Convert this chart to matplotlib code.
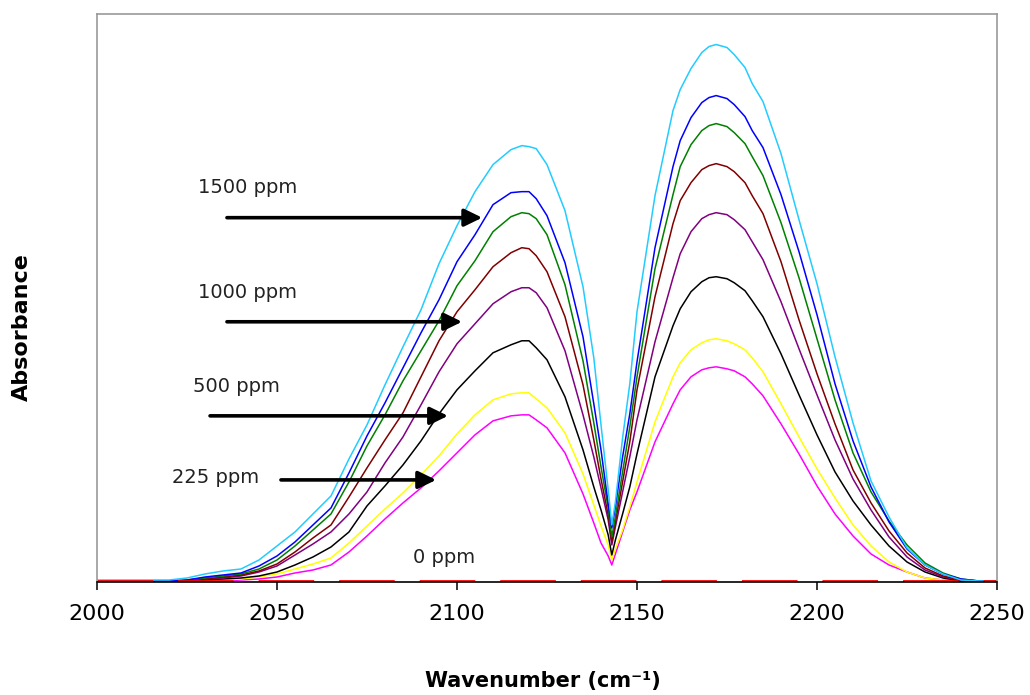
"""
CO gas-phase IR spectra at several concentrations (2000-2250 cm-1)
"""
import matplotlib
matplotlib.use('Agg')
import matplotlib.pyplot as plt

# Wavenumber grid (cm-1)
wavenumber = [2000, 2010, 2020, 2025, 2030, 2035, 2040, 2045, 2050,
              2055, 2060, 2065, 2070, 2075, 2080, 2085, 2090, 2095, 2100,
              2105, 2110, 2115, 2118, 2120, 2122, 2125, 2130, 2135,
              2138, 2140, 2142, 2143, 2144, 2146, 2148, 2150,
              2155, 2160, 2162, 2165, 2168, 2170, 2172, 2175, 2177, 2180, 2182, 2185,
              2190, 2195, 2200, 2205, 2210, 2215, 2220, 2225, 2230, 2235, 2240, 2245, 2250]

# Absorbance spectra, highest concentration first
abs_cyan = [0.002, 0.002, 0.002, 0.004, 0.008, 0.011, 0.013, 0.022, 0.036,
            0.050, 0.068, 0.086, 0.123, 0.157, 0.197, 0.235, 0.272, 0.318, 0.356,
            0.390, 0.417, 0.432, 0.436, 0.435, 0.433, 0.417, 0.371, 0.295,
            0.224, 0.157, 0.092, 0.057, 0.080, 0.144, 0.198, 0.270,
            0.386, 0.471, 0.492, 0.513, 0.529, 0.535, 0.537, 0.534, 0.527, 0.514, 0.498, 0.480,
            0.428, 0.362, 0.298, 0.225, 0.159, 0.101, 0.065, 0.034, 0.017, 0.008, 0.002, 0.001, 0.001]
abs_blue = [0.001, 0.001, 0.001, 0.002, 0.005, 0.007, 0.009, 0.016, 0.026,
            0.040, 0.057, 0.074, 0.109, 0.146, 0.179, 0.214, 0.249, 0.282, 0.320,
            0.347, 0.377, 0.389, 0.390, 0.390, 0.383, 0.366, 0.319, 0.245,
            0.178, 0.132, 0.078, 0.054, 0.075, 0.125, 0.168, 0.220,
            0.334, 0.415, 0.441, 0.464, 0.479, 0.484, 0.486, 0.483, 0.477, 0.465, 0.451, 0.434,
            0.387, 0.330, 0.267, 0.198, 0.141, 0.095, 0.060, 0.033, 0.017, 0.008, 0.003, 0.001, 0.001]
abs_green = [0.001, 0.001, 0.001, 0.002, 0.004, 0.006, 0.008, 0.013, 0.022,
             0.036, 0.052, 0.068, 0.100, 0.136, 0.167, 0.201, 0.231, 0.261, 0.296,
             0.321, 0.350, 0.365, 0.369, 0.368, 0.363, 0.347, 0.297, 0.221,
             0.159, 0.115, 0.074, 0.045, 0.065, 0.110, 0.155, 0.205,
             0.313, 0.387, 0.415, 0.437, 0.451, 0.456, 0.458, 0.455, 0.449, 0.438, 0.425, 0.406,
             0.359, 0.304, 0.243, 0.182, 0.129, 0.090, 0.061, 0.037, 0.019, 0.009, 0.003, 0.001, 0.001]
abs_brown = [0.001, 0.001, 0.001, 0.001, 0.003, 0.005, 0.007, 0.011, 0.018,
             0.030, 0.044, 0.057, 0.085, 0.114, 0.142, 0.169, 0.205, 0.241, 0.270,
             0.292, 0.315, 0.329, 0.334, 0.333, 0.326, 0.310, 0.265, 0.197,
             0.142, 0.103, 0.067, 0.040, 0.060, 0.100, 0.140, 0.192,
             0.285, 0.358, 0.381, 0.399, 0.412, 0.416, 0.418, 0.415, 0.410, 0.399, 0.386, 0.368,
             0.320, 0.262, 0.208, 0.158, 0.112, 0.079, 0.051, 0.029, 0.014, 0.006, 0.002, 0.001, 0.001]
abs_purple = [0.001, 0.001, 0.001, 0.001, 0.003, 0.004, 0.006, 0.010, 0.016,
              0.027, 0.038, 0.050, 0.068, 0.090, 0.119, 0.145, 0.177, 0.210, 0.238,
              0.258, 0.278, 0.290, 0.294, 0.294, 0.289, 0.274, 0.231, 0.167,
              0.125, 0.094, 0.062, 0.037, 0.055, 0.090, 0.125, 0.162,
              0.240, 0.304, 0.328, 0.350, 0.363, 0.367, 0.369, 0.367, 0.362, 0.352, 0.340, 0.322,
              0.280, 0.233, 0.187, 0.142, 0.103, 0.072, 0.045, 0.025, 0.012, 0.005, 0.002, 0.001, 0.001]
abs_black = [0.001, 0.001, 0.001, 0.001, 0.002, 0.003, 0.004, 0.006, 0.010,
             0.017, 0.025, 0.035, 0.050, 0.076, 0.096, 0.117, 0.141, 0.168, 0.192,
             0.211, 0.229, 0.237, 0.241, 0.241, 0.234, 0.222, 0.185, 0.132,
             0.095, 0.072, 0.047, 0.027, 0.042, 0.068, 0.095, 0.128,
             0.205, 0.256, 0.273, 0.290, 0.300, 0.304, 0.305, 0.303, 0.299, 0.291, 0.281, 0.265,
             0.228, 0.187, 0.147, 0.110, 0.081, 0.057, 0.036, 0.020, 0.010, 0.004, 0.001, 0.001, 0.001]
abs_yellow = [0.001, 0.001, 0.001, 0.001, 0.001, 0.002, 0.003, 0.005, 0.008,
              0.013, 0.018, 0.024, 0.039, 0.056, 0.073, 0.089, 0.107, 0.126, 0.148,
              0.167, 0.182, 0.188, 0.189, 0.189, 0.183, 0.174, 0.149, 0.108,
              0.077, 0.056, 0.037, 0.022, 0.033, 0.052, 0.075, 0.100,
              0.160, 0.205, 0.219, 0.232, 0.239, 0.242, 0.243, 0.241, 0.238, 0.232, 0.224, 0.210,
              0.178, 0.145, 0.113, 0.084, 0.057, 0.036, 0.020, 0.010, 0.004, 0.002, 0.001, 0.001, 0.001]
abs_magenta = [0.000, 0.000, 0.000, 0.001, 0.001, 0.001, 0.002, 0.003, 0.005,
               0.009, 0.012, 0.017, 0.030, 0.046, 0.063, 0.079, 0.094, 0.111, 0.129,
               0.147, 0.161, 0.166, 0.167, 0.167, 0.162, 0.154, 0.129, 0.088,
               0.059, 0.039, 0.026, 0.017, 0.028, 0.050, 0.072, 0.090,
               0.140, 0.178, 0.192, 0.205, 0.212, 0.214, 0.215, 0.213, 0.211, 0.205, 0.198, 0.186,
               0.158, 0.128, 0.096, 0.068, 0.046, 0.028, 0.017, 0.010, 0.004, 0.002, 0.001, 0.000, 0.000]

# 0 ppm reference scan
wavenumber_zero = [2000, 2080, 2140, 2250]
abs_zero = [0.001, 0.001, 0.001, 0.001]

# Concentration labels
labels = ['1500 ppm', '1000 ppm', '500 ppm', '225 ppm', '0 ppm']

spectra = [
    (abs_magenta, '#FF00FF'),
    (abs_yellow, '#FFFF00'),
    (abs_black, '#000000'),
    (abs_purple, '#800080'),
    (abs_brown, '#800000'),
    (abs_green, '#008000'),
    (abs_blue, '#0000FF'),
    (abs_cyan, '#22CCFF'),
]

fig = plt.figure(figsize=(10.3, 6.95), dpi=100)
ax = fig.add_axes([97 / 1030, 1 - 582 / 695, 900 / 1030, 568 / 695])

for values, color in spectra:
    ax.plot(wavenumber, values, color=color, linewidth=1.1)

ax.plot(wavenumber_zero, abs_zero, color='#FF0000', linewidth=2.0,
        dashes=(20, 9))

ax.set_xlim(2000, 2250)
ax.set_ylim(0, 0.5675)
ax.set_xticks([2000, 2050, 2100, 2150, 2200, 2250])
ax.set_yticks([])
ax.tick_params(axis='x', direction='out', length=6, width=1.1, pad=9.5,
               labelsize=16, colors='#000000')

for side in ['top', 'left', 'right']:
    ax.spines[side].set_color('#999999')
    ax.spines[side].set_linewidth(1.2)
ax.spines['bottom'].set_color('#000000')
ax.spines['bottom'].set_linewidth(1.2)

ax.set_xlabel('Wavenumber (cm⁻¹)', fontsize=15, fontweight='bold')
ax.xaxis.set_label_coords(0.4956, -0.157)
ax.set_ylabel('Absorbance', fontsize=16, fontweight='bold')
ax.yaxis.set_label_coords(-0.072, 0.449)

# Concentration labels with arrows pointing at the P-branch
label_pos = [(2028.1, 0.394), (2028.1, 0.289), (2026.7, 0.195),
             (2020.8, 0.104), (2087.8, 0.024)]
arrows = [((2036.1, 0.364), (2107.0, 0.364)),
          ((2036.1, 0.260), (2101.4, 0.260)),
          ((2031.4, 0.166), (2097.5, 0.166)),
          ((2051.1, 0.102), (2094.2, 0.102))]

for text, (x, y) in zip(labels, label_pos):
    ax.text(x, y, text, fontsize=14, ha='left', va='center', color='#222222')

for start, tip in arrows:
    ax.annotate('', xy=tip, xytext=start,
                arrowprops=dict(arrowstyle='-|>,head_length=0.45,head_width=0.22',
                                mutation_scale=24, color='black', lw=2.6,
                                shrinkA=0, shrinkB=0))

plt.savefig('out.png', dpi=100)
plt.close()
